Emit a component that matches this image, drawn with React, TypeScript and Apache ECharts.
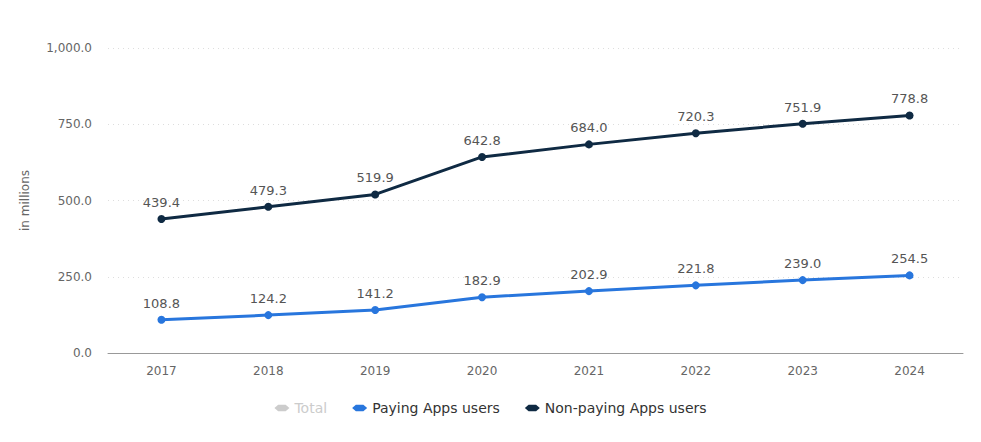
import React, { useEffect, useRef } from "react";
import * as echarts from "echarts";

const years = ["2017", "2018", "2019", "2020", "2021", "2022", "2023", "2024"];
const payingUsers = [108.8, 124.2, 141.2, 182.9, 202.9, 221.8, 239.0, 254.5];
const nonPayingUsers = [439.4, 479.3, 519.9, 642.8, 684.0, 720.3, 751.9, 778.8];
const totalUsers: number[] = [];
const yTicks = [0, 250, 500, 750, 1000];

const FONT = "DejaVu Sans, Verdana, sans-serif";
const legendIcon = "path://M0,4 L4,0.5 L12,0.5 L16,4 L12,7.5 L4,7.5 Z";

const fmt = (v: number) =>
  v.toLocaleString("en-US", { minimumFractionDigits: 1, maximumFractionDigits: 1 });

export default function App() {
  const ref = useRef<HTMLDivElement>(null);
  useEffect(() => {
    if (!ref.current) return;
    const chart = echarts.init(ref.current, null, { renderer: "svg" });
    const labelCfg = {
      show: true,
      position: "top" as const,
      distance: 6,
      color: "#555",
      fontSize: 13,
      fontFamily: FONT,
      formatter: (p: any) => fmt(p.value),
    };
    chart.setOption({
      animation: false,
      grid: { left: 100, right: 10, top: 40, bottom: 81 },
      legend: {
        bottom: 14,
        left: "center",
        itemWidth: 15,
        itemHeight: 8,
        itemGap: 25,
        icon: legendIcon,
        textStyle: { fontFamily: FONT, fontSize: 14, color: "#333" },
        inactiveColor: "#ccc",
        selected: { Total: false },
        data: ["Total", "Paying Apps users", "Non-paying Apps users"],
      },
      xAxis: {
        type: "category",
        data: years,
        boundaryGap: true,
        axisLine: { lineStyle: { color: "#999", width: 1 } },
        axisTick: { show: false },
        axisLabel: { color: "#666", fontSize: 12, fontFamily: FONT, margin: 12 },
      },
      yAxis: {
        type: "value",
        min: yTicks[0],
        max: yTicks[yTicks.length - 1],
        interval: 250,
        name: "in millions",
        nameLocation: "middle",
        nameGap: 77,
        nameTextStyle: { color: "#666", fontSize: 12, fontFamily: FONT },
        axisLine: { show: false },
        axisTick: { show: false },
        axisLabel: {
          color: "#666",
          fontSize: 12,
          fontFamily: FONT,
          margin: 16,
          formatter: (v: number) => fmt(v),
        },
        splitLine: { lineStyle: { color: "#ddd", type: [1, 4], width: 1 } },
      },
      series: [
        {
          name: "Total",
          type: "line",
          data: totalUsers,
          color: "#c8c8c8",
        },
        {
          name: "Paying Apps users",
          type: "line",
          data: payingUsers,
          color: "#2876dd",
          symbol: "circle",
          symbolSize: 8,
          lineStyle: { width: 3 },
          label: labelCfg,
        },
        {
          name: "Non-paying Apps users",
          type: "line",
          data: nonPayingUsers,
          color: "#0f2a43",
          symbol: "circle",
          symbolSize: 8,
          lineStyle: { width: 3 },
          label: labelCfg,
        },
      ],
    });
    return () => chart.dispose();
  }, []);
  return <div ref={ref} style={{ width: 965, height: 426 }} />;
}
